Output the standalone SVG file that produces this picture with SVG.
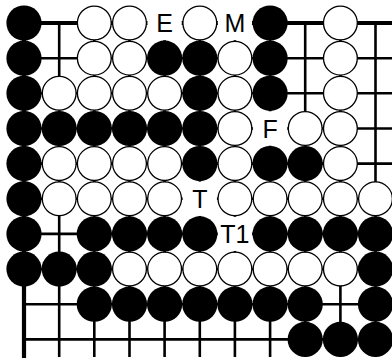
<svg xmlns="http://www.w3.org/2000/svg" xmlns:xlink="http://www.w3.org/1999/xlink" width="392" height="360" viewBox="0 0 392 360">
<style>
.g{stroke:#000;stroke-width:2.6;fill:none}
.e{stroke:#000;stroke-width:4.2;fill:none}
.lb{font-family:"Liberation Sans",Arial,sans-serif;font-size:25px;fill:#000;text-anchor:middle}
</style>
<defs>
<circle id="b" r="17.6" fill="#000"/>
<circle id="w" r="16.9" fill="#fff" stroke="#000" stroke-width="1.3"/>
<circle id="bg" r="17.2" fill="#fff"/>
</defs>
<rect width="392" height="360" fill="#fff"/>
<g id="grid">
<path class="g" d="M59.2 23V357M94.3 23V357M129.5 23V357M164.6 23V357M199.8 23V357M234.9 23V357M270.1 23V357M305.2 23V357M340.4 23V357M375.5 23V357"/>
<path class="g" d="M24 58.2H392M24 93.3H392M24 128.5H392M24 163.6H392M24 198.8H392M24 233.9H392M24 269.1H392M24 304.2H392M24 339.4H392"/>
<path class="e" d="M22 23H392M24 21V358"/>
</g>
<g id="labels-bg">
<use href="#bg" x="164.6" y="23"/>
<use href="#bg" x="234.9" y="23"/>
<use href="#bg" x="270.1" y="128.5"/>
<use href="#bg" x="199.8" y="198.8"/>
<use href="#bg" x="234.9" y="233.9"/>
</g>
<g id="white">
<use href="#w" x="94.3" y="23"/><use href="#w" x="129.5" y="23"/><use href="#w" x="199.8" y="23"/><use href="#w" x="340.4" y="23"/>
<use href="#w" x="94.3" y="58.2"/><use href="#w" x="129.5" y="58.2"/><use href="#w" x="234.9" y="58.2"/><use href="#w" x="340.4" y="58.2"/>
<use href="#w" x="59.2" y="93.3"/><use href="#w" x="94.3" y="93.3"/><use href="#w" x="129.5" y="93.3"/><use href="#w" x="164.6" y="93.3"/><use href="#w" x="234.9" y="93.3"/><use href="#w" x="340.4" y="93.3"/>
<use href="#w" x="234.9" y="128.5"/><use href="#w" x="305.2" y="128.5"/><use href="#w" x="340.4" y="128.5"/>
<use href="#w" x="59.2" y="163.6"/><use href="#w" x="94.3" y="163.6"/><use href="#w" x="129.5" y="163.6"/><use href="#w" x="164.6" y="163.6"/><use href="#w" x="234.9" y="163.6"/><use href="#w" x="340.4" y="163.6"/>
<use href="#w" x="59.2" y="198.8"/><use href="#w" x="94.3" y="198.8"/><use href="#w" x="129.5" y="198.8"/><use href="#w" x="164.6" y="198.8"/><use href="#w" x="234.9" y="198.8"/><use href="#w" x="270.1" y="198.8"/><use href="#w" x="305.2" y="198.8"/><use href="#w" x="340.4" y="198.8"/><use href="#w" x="375.5" y="198.8"/>
<use href="#w" x="129.5" y="269.1"/><use href="#w" x="164.6" y="269.1"/><use href="#w" x="199.8" y="269.1"/><use href="#w" x="234.9" y="269.1"/><use href="#w" x="270.1" y="269.1"/><use href="#w" x="305.2" y="269.1"/><use href="#w" x="340.4" y="269.1"/>
</g>
<g id="black">
<use href="#b" x="24" y="23"/><use href="#b" x="270.1" y="23"/>
<use href="#b" x="24" y="58.2"/><use href="#b" x="164.6" y="58.2"/><use href="#b" x="199.8" y="58.2"/><use href="#b" x="270.1" y="58.2"/>
<use href="#b" x="24" y="93.3"/><use href="#b" x="199.8" y="93.3"/><use href="#b" x="270.1" y="93.3"/>
<use href="#b" x="24" y="128.5"/><use href="#b" x="59.2" y="128.5"/><use href="#b" x="94.3" y="128.5"/><use href="#b" x="129.5" y="128.5"/><use href="#b" x="164.6" y="128.5"/><use href="#b" x="199.8" y="128.5"/>
<use href="#b" x="24" y="163.6"/><use href="#b" x="199.8" y="163.6"/><use href="#b" x="270.1" y="163.6"/><use href="#b" x="305.2" y="163.6"/>
<use href="#b" x="24" y="198.8"/>
<use href="#b" x="24" y="233.9"/><use href="#b" x="94.3" y="233.9"/><use href="#b" x="129.5" y="233.9"/><use href="#b" x="164.6" y="233.9"/><use href="#b" x="199.8" y="233.9"/><use href="#b" x="270.1" y="233.9"/><use href="#b" x="305.2" y="233.9"/><use href="#b" x="340.4" y="233.9"/><use href="#b" x="375.5" y="233.9"/>
<use href="#b" x="24" y="269.1"/><use href="#b" x="59.2" y="269.1"/><use href="#b" x="94.3" y="269.1"/><use href="#b" x="375.5" y="269.1"/>
<use href="#b" x="94.3" y="304.2"/><use href="#b" x="129.5" y="304.2"/><use href="#b" x="164.6" y="304.2"/><use href="#b" x="199.8" y="304.2"/><use href="#b" x="234.9" y="304.2"/><use href="#b" x="270.1" y="304.2"/><use href="#b" x="305.2" y="304.2"/><use href="#b" x="375.5" y="304.2"/>
<use href="#b" x="305.2" y="339.4"/><use href="#b" x="340.4" y="339.4"/><use href="#b" x="375.5" y="339.4"/>
</g>
<g id="labels">
<text class="lb" x="164.6" y="32">E</text>
<text class="lb" x="234.9" y="32">M</text>
<text class="lb" x="270.1" y="137.5">F</text>
<text class="lb" x="199.8" y="207.8">T</text>
<text class="lb" x="234.9" y="242.9">T1</text>
</g>
</svg>
